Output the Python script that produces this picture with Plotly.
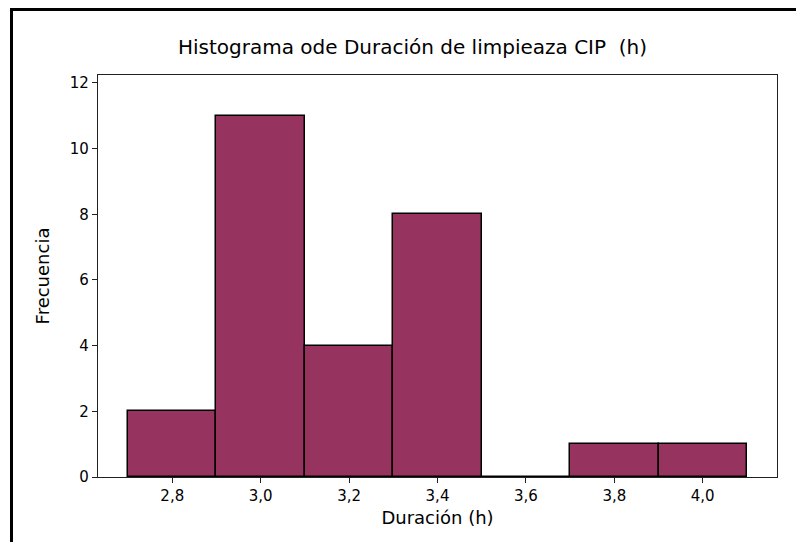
import plotly.graph_objects as go

# Histogram bins (centers) and counts
bin_centers = [2.8, 3.0, 3.2, 3.4, 3.6, 3.8, 4.0]
counts = [2, 11, 4, 8, 0, 1, 1]
bin_width = 0.2

x_ticks = [2.8, 3.0, 3.2, 3.4, 3.6, 3.8, 4.0]
y_ticks = [0, 2, 4, 6, 8, 10, 12]

bar_color = "#96345F"
font_family = "DejaVu Sans, Verdana, sans-serif"

fig = go.Figure()
fig.add_trace(go.Bar(
    x=bin_centers, y=counts, width=bin_width,
    marker=dict(color=bar_color, line=dict(color="black", width=1.5)),
    hoverinfo="x+y"))

# outer frame (left + top edges, like the exported image)
fig.add_shape(type="line", xref="paper", yref="paper",
              xsizemode="pixel", ysizemode="pixel", xanchor=0, yanchor=1,
              x0=-86.5, x1=-86.5, y0=68, y1=-490, line=dict(color="black", width=3))
fig.add_shape(type="line", xref="paper", yref="paper",
              xsizemode="pixel", ysizemode="pixel", xanchor=0, yanchor=1,
              x0=-88, x1=720, y0=65.5, y1=65.5, line=dict(color="black", width=3))

# page body adds ~8px around the figure, so size/margins are offset by that
fig.update_layout(
    width=788, height=534,
    margin=dict(l=90, r=19, t=67, b=65),
    paper_bgcolor="white", plot_bgcolor="white",
    separators=",.",
    showlegend=False,
    font=dict(family=font_family, size=15, color="black"),
    title=dict(text="Histograma ode Duración de limpieaza CIP\u00a0\u00a0(h)",
               x=404.5 / 788, xanchor="center", xref="container",
               y=1 - 39 / 534, yanchor="middle", yref="container",
               font=dict(size=20)),
    bargap=0,
)
fig.update_xaxes(
    range=[2.632, 4.168], tickvals=x_ticks, tickformat=".1f",
    ticks="outside", ticklen=5, tickcolor="#222",
    showline=True, linecolor="#222", linewidth=1.2, mirror=True,
    showgrid=False, zeroline=False,
    title=dict(text="Duración (h)", standoff=7))
fig.update_yaxes(
    range=[0, 12.24], tickvals=y_ticks,
    ticks="outside", ticklen=5, tickcolor="#222",
    showline=True, linecolor="#222", linewidth=1.2, mirror=True,
    showgrid=False, zeroline=False,
    title=dict(text="Frecuencia", standoff=15))

fig.write_html("out.html")
